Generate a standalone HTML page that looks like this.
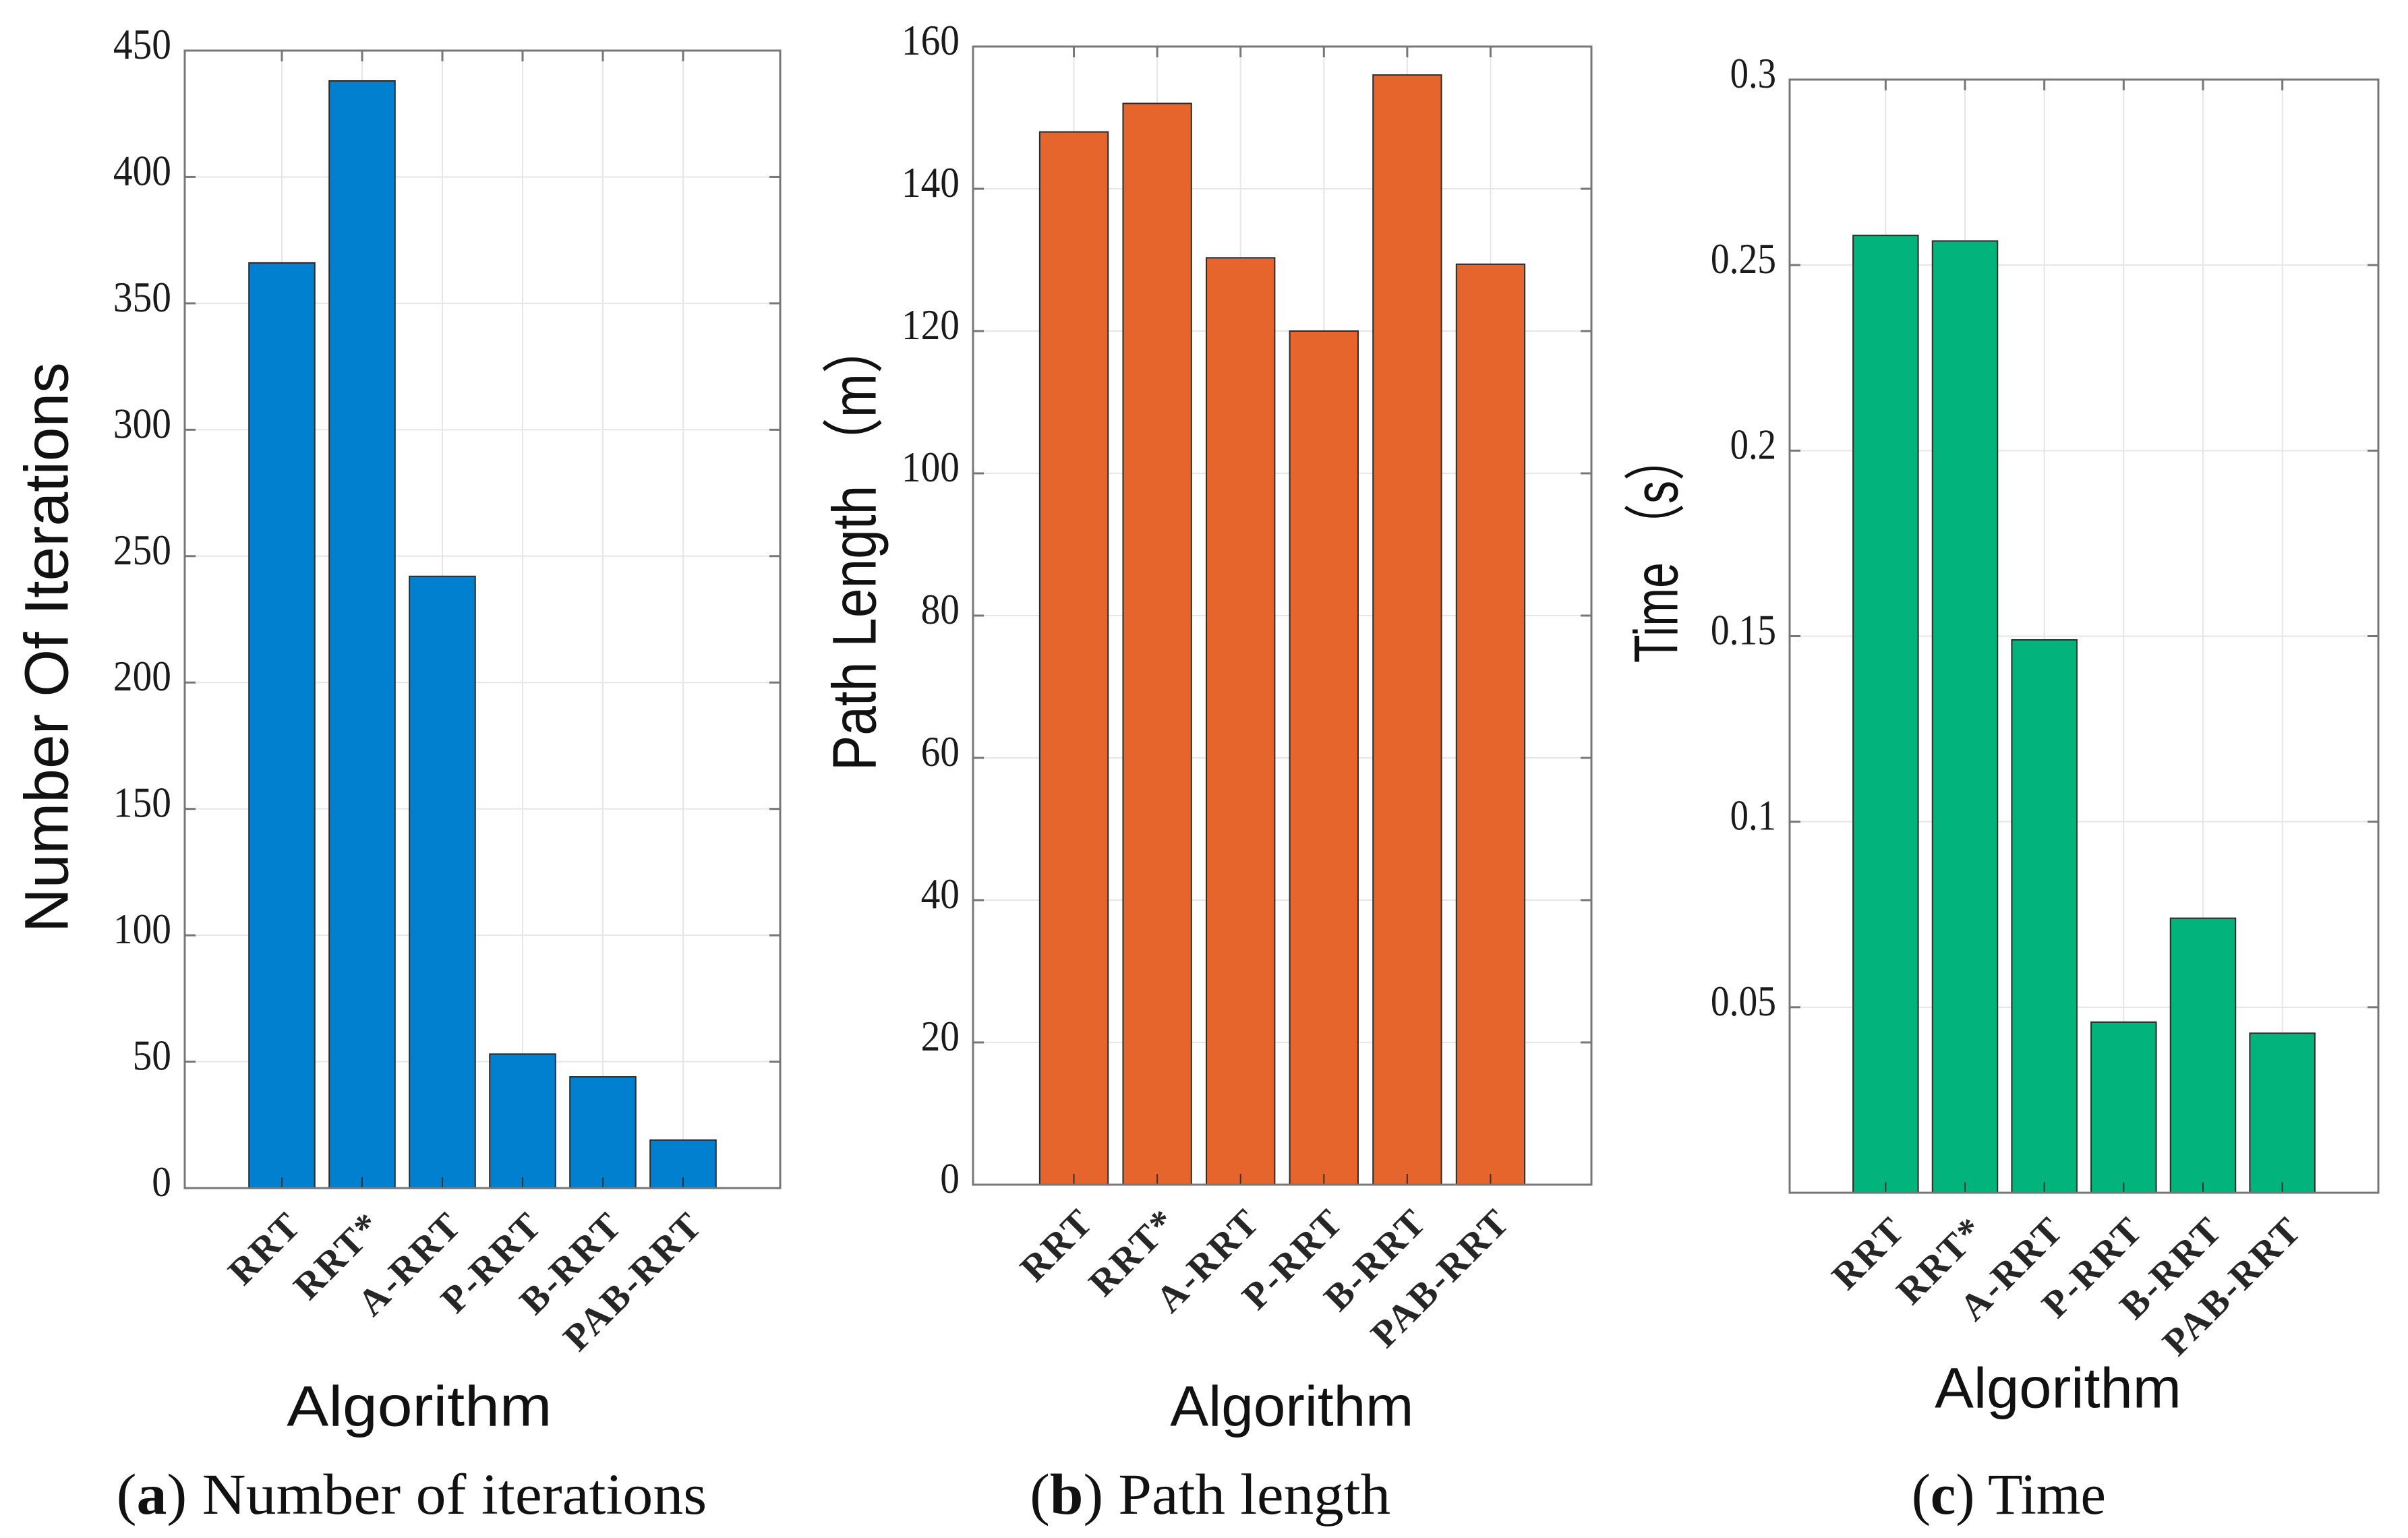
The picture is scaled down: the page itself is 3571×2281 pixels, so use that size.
<!DOCTYPE html>
<html><head><meta charset="utf-8"><style>
html,body{margin:0;padding:0;background:#fff;}
svg{display:block;}
</style></head><body>
<svg id="fig" width="3571" height="2281" viewBox="0 0 3571 2281" xmlns="http://www.w3.org/2000/svg"></svg>
<script>
// ---- data ----
const categories = ["RRT","RRT*","A-RRT","P-RRT","B-RRT","PAB-RRT"];
const iterValues = [366, 438, 242, 53, 44, 19];
const iterTicks = [0,50,100,150,200,250,300,350,400,450];
const iterTickLabels = ["0","50","100","150","200","250","300","350","400","450"];
const lengthValues = [148, 152, 130.3, 120, 156, 129.4];
const lengthTicks = [0,20,40,60,80,100,120,140,160];
const lengthTickLabels = ["0","20","40","60","80","100","120","140","160"];
const timeValues = [0.258, 0.2565, 0.149, 0.046, 0.074, 0.043];
const timeTicks = [0.05,0.1,0.15,0.2,0.25,0.3];
const timeTickLabels = ["0.05","0.1","0.15","0.2","0.25","0.3"];

const S = 3571/1562;
const NS = "http://www.w3.org/2000/svg";
const svg = document.getElementById('fig');
function mk(tag, attrs, parent){
  const e = document.createElementNS(NS, tag);
  for (const k in attrs) e.setAttribute(k, attrs[k]);
  (parent||svg).appendChild(e);
  return e;
}
function labelLen(s){
  let w=0; for (const ch of s) w += (ch==='.') ? 11 : 28.7; return w;
}

function drawPanel(p){
  const g = mk('g', {});
  
  
  const L=p.box[0], R=p.box[1], T=p.box[2], B=p.box[3];
  const ymin=p.ylim[0], ymax=p.ylim[1];
  const yS = v => B - (v-ymin)/(ymax-ymin)*(B-T);
  const n = categories.length, pad = 1.21;
  const step = (R-L)/(n-1+2*pad);
  const xS = i => L + (i+pad)*step;
  const bw = step*0.82;
  p.ticks.forEach((t,i)=>{
    const y=yS(t);
    const gl = mk('line',{x1:L,x2:R,y1:y,y2:y,stroke:'#e6e6e6','stroke-width':2},g);
    
    
    mk('line',{x1:L,x2:L+16,y1:y,y2:y,stroke:'#777','stroke-width':3},g);
    mk('line',{x1:R-16,x2:R,y1:y,y2:y,stroke:'#777','stroke-width':3},g);
    const lab = p.tickLabels[i];
    const tl = mk('text',{x:L-20,y:y+12,'text-anchor':'end','font-family':'Liberation Serif, serif','font-size':64,fill:'#1a1a1a',textLength:labelLen(lab),lengthAdjust:'spacingAndGlyphs'},g);
    tl.textContent = lab;
    
    
  });
  categories.forEach((c,i)=>{
    const x=xS(i);
    mk('line',{x1:x,x2:x,y1:T,y2:B,stroke:'#e6e6e6','stroke-width':2},g);
    mk('line',{x1:x,x2:x,y1:T,y2:T+16,stroke:'#777','stroke-width':3},g);
  });
  p.values.forEach((v,i)=>{
    const x=xS(i), y=yS(v);
    const r = mk('rect',{x:x-bw/2,y:y,width:bw,height:B-y,fill:p.color,stroke:'#2b2b2b','stroke-width':2},g);
    
    
    mk('line',{x1:x,x2:x,y1:B-16,y2:B,stroke:'#333','stroke-width':2},g);
    const tx = x+32, ty = B+58;
    const ct = mk('text',{x:tx,y:ty,'text-anchor':'end','font-family':'Liberation Serif, serif','font-weight':'bold','font-size':56,'letter-spacing':3,fill:'#262626',transform:'rotate(-45 '+tx+' '+ty+')'},g);
    ct.textContent = categories[i];
    
    
  });
  const bx = mk('rect',{x:L,y:T,width:R-L,height:B-T,fill:'none',stroke:'#777','stroke-width':3},g);
  
  
  const yx=p.ylab[0]*S, yc=p.ylab[1]*S;
  const yt = mk('text',{x:yx,y:yc,'text-anchor':'middle','font-family':'Liberation Sans, Noto Sans CJK SC, sans-serif','font-size':92,fill:'#111',textLength:p.ylab[2]*S,lengthAdjust:'spacingAndGlyphs',transform:'rotate(-90 '+yx+' '+yc+')'},g);
  yt.textContent = p.ytitle;
  
  
  const xt = mk('text',{x:p.xlab[0]*S,y:p.xlab[1]*S,'text-anchor':'middle','font-family':'Liberation Sans, sans-serif','font-size':84,fill:'#111',textLength:p.xlab[2]*S,lengthAdjust:'spacingAndGlyphs'},g);
  xt.textContent = 'Algorithm';
  
  
  const cap = mk('text',{x:p.cap[0]*S,y:p.cap[1]*S,'text-anchor':'middle','font-family':'Liberation Serif, serif','font-size':86,fill:'#111',textLength:p.cap[2]*S,lengthAdjust:'spacingAndGlyphs'},g);
  cap.innerHTML = '(<tspan font-weight="bold">'+p.letter+'</tspan>) '+p.caption;
  
  
}

drawPanel({name:'chart-iterations',box:[274,1157,75,1762],ylim:[0,450],ticks:iterTicks,tickLabels:iterTickLabels,values:iterValues,color:'#0080CF',ytitle:'Number Of Iterations',ylab:[44,420,370],xlab:[272,925,172],cap:[267,982,383],letter:'a',caption:'Number of iterations'});
drawPanel({name:'chart-path-length',box:[1443,2360,69,1757],ylim:[0,160],ticks:lengthTicks,tickLabels:lengthTickLabels,values:lengthValues,color:'#E5652C',ytitle:'Path Length （m）',ylab:[568,354,292],xlab:[838,925,158],cap:[785,982,234],letter:'b',caption:'Path length'});
drawPanel({name:'chart-time',box:[2654,3527,118,1769],ylim:[0,0.3],ticks:timeTicks,tickLabels:timeTickLabels,values:timeValues,color:'#02B47C',ytitle:'Time （s）',ylab:[1088,356,148],xlab:[1335,913,160],cap:[1303,982,126],letter:'c',caption:'Time'});
</script>
</body></html>
